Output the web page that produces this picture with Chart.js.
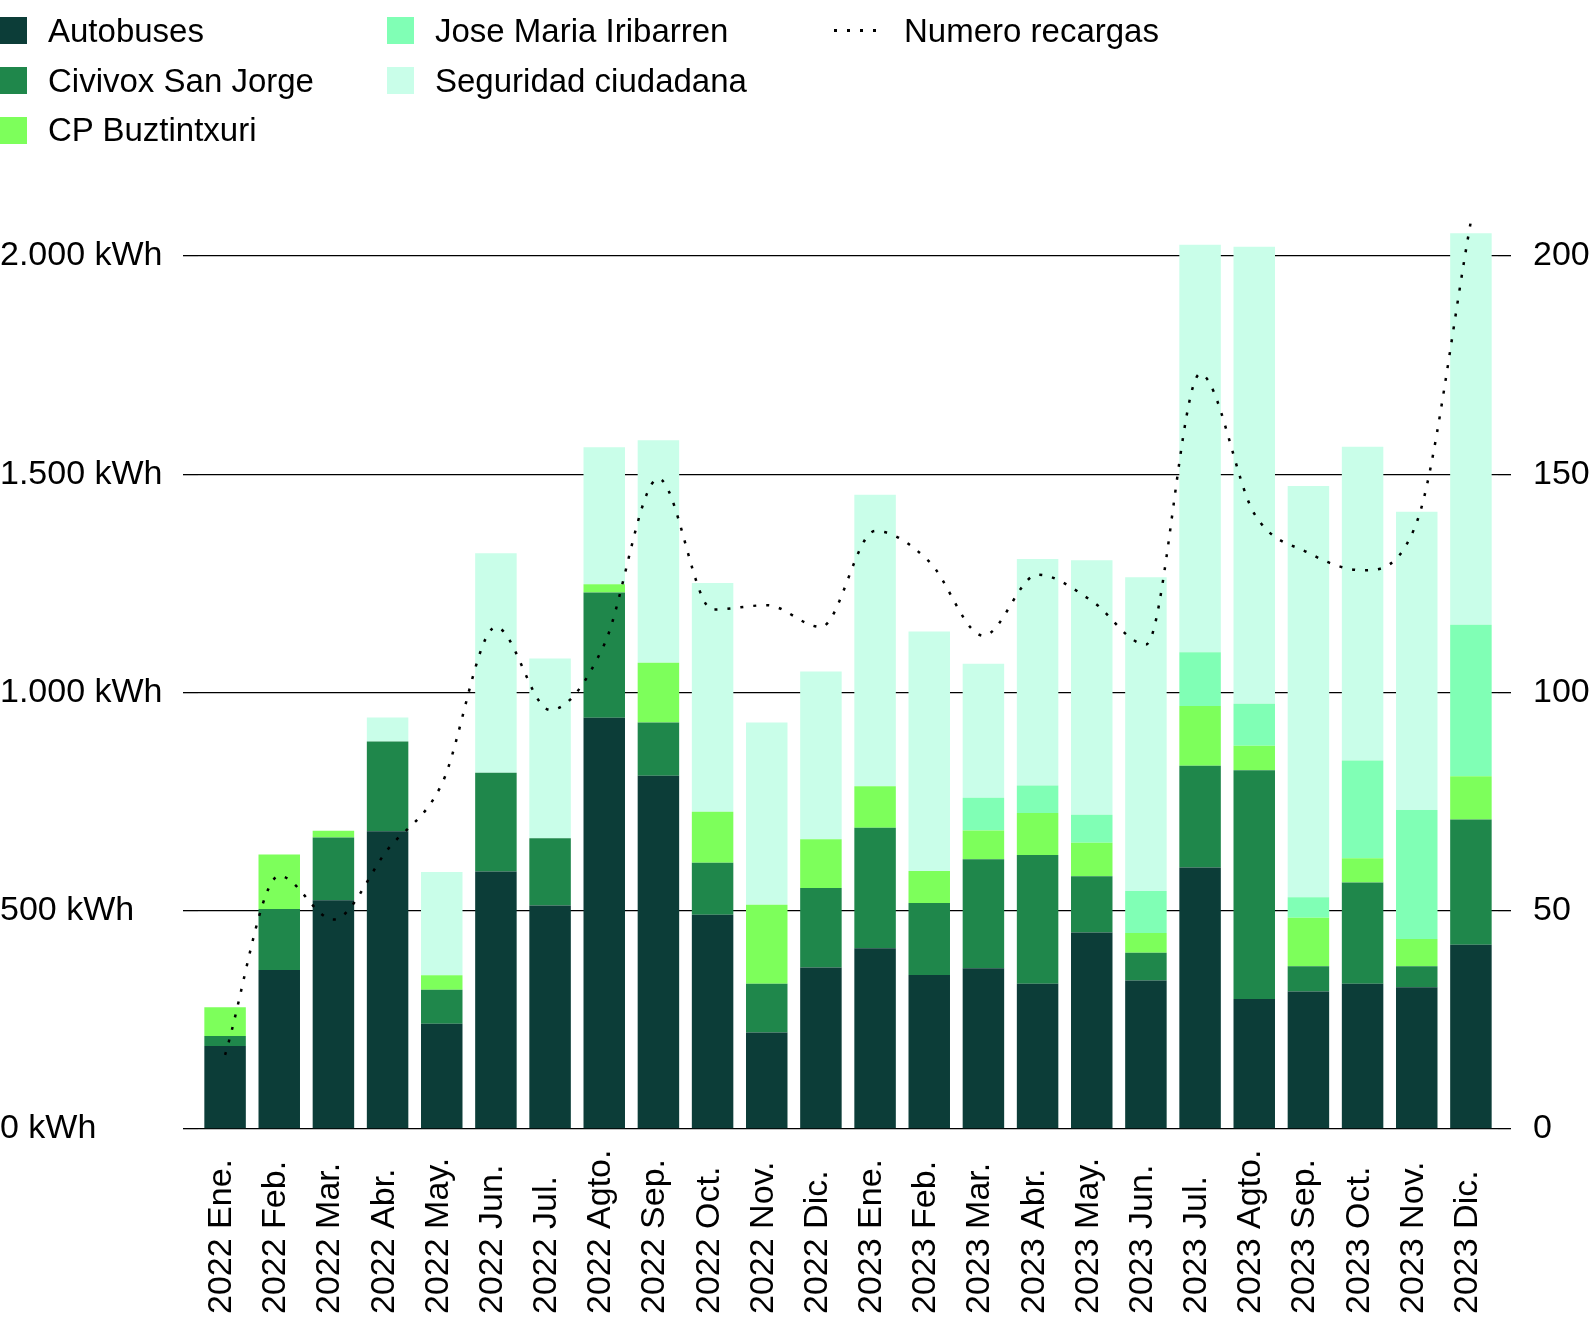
<!DOCTYPE html>
<html>
<head>
<meta charset="utf-8">
<script src="https://cdn.jsdelivr.net/npm/chart.js@4.4.1/dist/chart.umd.min.js"></script>
<style>
    body { margin: 0; background: #fff; overflow: hidden; }
    #wrap { position: relative; width: 1595px; height: 1317px; }
    #chart { position: absolute; left: 0; top: 0; }
    #legend {
        position: absolute; left: 0; top: 6px;
        display: grid;
        grid-template-columns: 387px 447px 400px;
        grid-template-rows: repeat(3, 49.7px);
        grid-auto-flow: column;
        font-family: "Liberation Sans", Arial, sans-serif;
        font-size: 33px;
        color: #000;
    }
    .item { display: flex; align-items: center; white-space: nowrap; }
    .item.line { grid-column: 3; grid-row: 1; }
    .box { width: 27px; height: 27px; margin-right: 21px; flex: none; }
    .dots {
        width: 46px; height: 3px; margin-right: 24px; flex: none;
        background: repeating-linear-gradient(90deg, #000 0 3px, transparent 3px 13px);
    }
</style>
</head>
<body>
<div id="wrap">
    <canvas id="chart" width="1595" height="1317"></canvas>
    <div id="legend"></div>
</div>
<script>
// DATA
const months = [
    "2022 Ene.", "2022 Feb.", "2022 Mar.", "2022 Abr.", "2022 May.", "2022 Jun.",
    "2022 Jul.", "2022 Agto.", "2022 Sep.", "2022 Oct.", "2022 Nov.", "2022 Dic.",
    "2023 Ene.", "2023 Feb.", "2023 Mar.", "2023 Abr.", "2023 May.", "2023 Jun.",
    "2023 Jul.", "2023 Agto.", "2023 Sep.", "2023 Oct.", "2023 Nov.", "2023 Dic.",
];
const autobuses = [190, 364, 524, 682, 241, 590, 512, 942, 809, 491, 221, 370, 414, 353, 368, 333, 450, 340, 599, 298, 315, 333, 325, 422];
const civivox = [23, 140, 144, 206, 78, 226, 154, 287, 122, 119, 112, 182, 276, 165, 250, 295, 129, 64, 233, 524, 58, 232, 48, 287];
const cpBuztintxuri = [66, 125, 15, 0, 33, 0, 0, 19, 137, 117, 181, 112, 95, 73, 66, 96, 77, 45, 137, 56, 111, 55, 62, 99];
const joseMaria = [0, 0, 0, 0, 0, 0, 0, 0, 0, 0, 0, 0, 0, 0, 75, 63, 64, 96, 123, 96, 47, 224, 296, 347];
const seguridad = [0, 0, 0, 55, 237, 503, 412, 314, 510, 524, 417, 384, 668, 549, 307, 519, 583, 719, 934, 1047, 942, 719, 683, 897];
const recargas = [17, 58, 48, 64, 79, 115, 96, 111, 149, 119, 120, 115, 137, 130, 113, 127, 121, 111, 173, 141, 132, 128, 139, 208];

const kwhTicks = ["0 kWh", "500 kWh", "1.000 kWh", "1.500 kWh", "2.000 kWh"];
const recargaTicks = ["0", "50", "100", "150", "200"];

const FONT = { family: '"Liberation Sans", Arial, sans-serif', size: 34 };

const barSet = (label, data, color) => ({
    type: "bar",
    label,
    data,
    backgroundColor: color,
    borderWidth: 0,
    yAxisID: "y",
    order: 1,
    clip: false,
});

// x labels start at the bottom edge and read upward
const xLabels = {
    id: "xLabels",
    afterDraw(chart) {
        const { ctx } = chart;
        const x = chart.scales.x;
        ctx.save();
        ctx.font = `${FONT.size}px ${FONT.family}`;
        ctx.fillStyle = "#000";
        ctx.textAlign = "left";
        ctx.textBaseline = "alphabetic";
        months.forEach((m, i) => {
            ctx.save();
            ctx.translate(x.getPixelForTick(i) + 6, chart.height - 3);
            ctx.rotate(-Math.PI / 2);
            ctx.fillText(m, 0, 0);
            ctx.restore();
        });
        ctx.restore();
    },
};

const chart = new Chart(document.getElementById("chart"), {
    data: {
        labels: months,
        datasets: [
            barSet("Autobuses", autobuses, "#0c3d38"),
            barSet("Civivox San Jorge", civivox, "#1f874b"),
            barSet("CP Buztintxuri", cpBuztintxuri, "#7dff5b"),
            barSet("Jose Maria Iribarren", joseMaria, "#80ffb5"),
            barSet("Seguridad ciudadana", seguridad, "#c9fee9"),
            {
                type: "line",
                label: "Numero recargas",
                data: recargas,
                yAxisID: "y2",
                borderColor: "#000",
                borderWidth: 2.5,
                borderDash: [3, 10],
                pointRadius: 0,
                cubicInterpolationMode: "monotone",
                fill: false,
                order: 0,
                clip: false,
            },
        ],
    },
    options: {
        responsive: false,
        animation: false,
        layout: { padding: { top: 256, left: 0, right: 0, bottom: 0 } },
        datasets: { bar: { barPercentage: 0.766, categoryPercentage: 1 } },
        plugins: { legend: { display: false }, tooltip: { enabled: false } },
        scales: {
            x: {
                stacked: true,
                grid: { display: false },
                border: { display: false },
                ticks: { display: false },
                afterFit: (s) => { s.height = 188; },
            },
            y: {
                stacked: true,
                position: "left",
                min: 0,
                max: 2000,
                border: { display: false },
                grid: { color: "#000", lineWidth: 1.3, drawTicks: true, tickLength: 15, tickColor: "#000" },
                ticks: {
                    stepSize: 500,
                    crossAlign: "far",
                    color: "#000",
                    font: FONT,
                    callback: (v, i) => kwhTicks[i],
                },
                afterFit: (s) => { s.width = 198; },
            },
            y2: {
                position: "right",
                min: 0,
                max: 200,
                border: { display: false },
                grid: { drawOnChartArea: false, color: "#000", lineWidth: 1.3, tickLength: 13 },
                ticks: {
                    stepSize: 50,
                    padding: 22,
                    color: "#000",
                    font: FONT,
                    callback: (v, i) => recargaTicks[i],
                },
                afterFit: (s) => { s.width = 97; },
            },
        },
    },
    plugins: [xLabels],
});

// HTML legend: bars fill two columns, the line sits alone in the third
const legend = document.getElementById("legend");
chart.data.datasets.forEach((ds) => {
    const isLine = ds.type === "line";
    const sw = isLine
        ? `<span class="dots"></span>`
        : `<span class="box" style="background:${ds.backgroundColor}"></span>`;
    legend.insertAdjacentHTML("beforeend",
        `<div class="item${isLine ? " line" : ""}">${sw}<span>${ds.label}</span></div>`);
});
</script>
</body>
</html>
